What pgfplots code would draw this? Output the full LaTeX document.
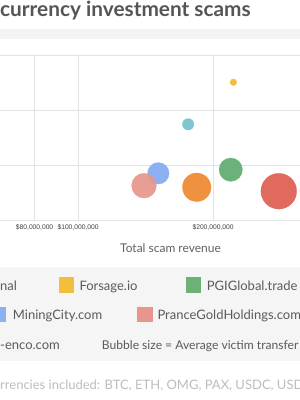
\documentclass[border=0pt]{standalone}
\usepackage{pgfplots}
\pgfplotsset{compat=1.18}
\usepackage{fontspec}
\setmainfont{Lato}
\newfontfamily\tickfont{Liberation Sans}
\definecolor{cyellow}{HTML}{F2BE3C}
\definecolor{cteal}{HTML}{7FC7CF}
\definecolor{cgreen}{HTML}{6AB279}
\definecolor{cblue}{HTML}{8CB0F2}
\definecolor{csalmon}{HTML}{E7958D}
\definecolor{corange}{HTML}{F0913F}
\definecolor{cred}{HTML}{E06A5D}
\definecolor{gridgray}{HTML}{E3E3E3}
\definecolor{bandgray}{HTML}{F4F4F4}
\definecolor{leggray}{HTML}{F5F5F5}
\definecolor{titlegray}{HTML}{555555}
\definecolor{textgray}{HTML}{5A5A5A}
\definecolor{footgray}{HTML}{BDBDBD}
\begin{document}
\begin{tikzpicture}[x=1pt,y=1pt]
\path[use as bounding box] (0,0) rectangle (300,400);
\begin{scope}
\clip (0,0) rectangle (300,400);
\fill[white] (0,0) rectangle (300,400);
\fill[bandgray] (0,361) rectangle (300,371);
\fill[leggray] (0,39) rectangle (300,133);
\begin{axis}[
  at={(0pt,180pt)}, anchor=south west,
  width=300pt, height=165pt, scale only axis,
  xmode=log, log basis x=10,
  xmin=6.70e7, xmax=3.126e8,
  ymin=0, ymax=3,
  ytick={0,1,2,3}, yticklabels={},
  xtick={8e7,1e8,2e8},
  xticklabels={{\$80,000,000},{\$100,000,000},{\$200,000,000}},
  minor xtick={}, minor ytick={},
  grid=major,
  major grid style={draw=gridgray, line width=0.8pt},
  axis line style={draw=none},
  major tick length=0pt,
  /pgf/number format/assume math mode=true,
  xticklabel style={font=\tickfont\fontsize{6.7}{7}\selectfont, text=black!75, anchor=base, inner sep=0pt, yshift=-10pt},
  clip=false,
]
\addplot[only marks, mark=*, mark size=3.4pt, mark options={fill=cyellow, draw=cyellow, line width=0.2pt}] coordinates {(2.22e8,2.504)};
\addplot[only marks, mark=*, mark size=5.8pt, mark options={fill=cteal, draw=cteal, line width=0.2pt}] coordinates {(1.76e8,1.74)};
\addplot[only marks, mark=*, mark size=11.7pt, mark options={fill=cgreen, draw=cgreen, line width=0.2pt}] coordinates {(2.19e8,0.915)};
\addplot[only marks, mark=*, mark size=10.8pt, mark options={fill=cblue, draw=cblue, line width=0.2pt}] coordinates {(1.51e8,0.849)};
\addplot[only marks, mark=*, mark size=12.4pt, mark options={fill=csalmon, draw=csalmon, line width=0.2pt, fill opacity=0.92}] coordinates {(1.403e8,0.624)};
\addplot[only marks, mark=*, mark size=14.3pt, mark options={fill=corange, draw=corange, line width=0.2pt}] coordinates {(1.839e8,0.595)};
\addplot[only marks, mark=*, mark size=17.9pt, mark options={fill=cred, draw=cred, line width=0.2pt}] coordinates {(2.803e8,0.524)};
\end{axis}
% title
\node[anchor=base west, inner sep=0pt, text=titlegray, font=\fontsize{20.8}{24}\selectfont\bfseries] at (0,383) {currency investment scams};
% x axis title
\node[anchor=base, inner sep=0pt, text=black!62, font=\fontsize{12}{14}\selectfont] at (170.5,147) {Total scam revenue};
% legend
\fill[cyellow] (59,107.3) rectangle (74.3,122.7);
\fill[cgreen] (186,107.3) rectangle (201.3,122.7);
\fill[cblue] (-9,77.7) rectangle (6,93);
\fill[csalmon] (137.3,77.7) rectangle (152.6,93);
\begin{scope}[every node/.style={anchor=base west, inner sep=0pt, text=textgray, font=\fontsize{13}{15}\selectfont}]
\node at (0,110) {nal};
\node at (79.3,110) {Forsage.io};
\node at (206.7,110) {PGIGlobal.trade};
\node at (12.7,81) {MiningCity.com};
\node at (157.3,81) {PranceGoldHoldings.com};
\node at (0,51) {-enco.com};
\node[font=\fontsize{12.1}{14}\selectfont] at (101.7,51) {Bubble size = Average victim transfer};
\end{scope}
% footer
\node[anchor=base west, inner sep=0pt, text=footgray, font=\fontsize{13}{15}\selectfont] at (0,10.7) {rrencies included: BTC, ETH, OMG, PAX, USDC, USDT};
\end{scope}
\end{tikzpicture}
\end{document}
